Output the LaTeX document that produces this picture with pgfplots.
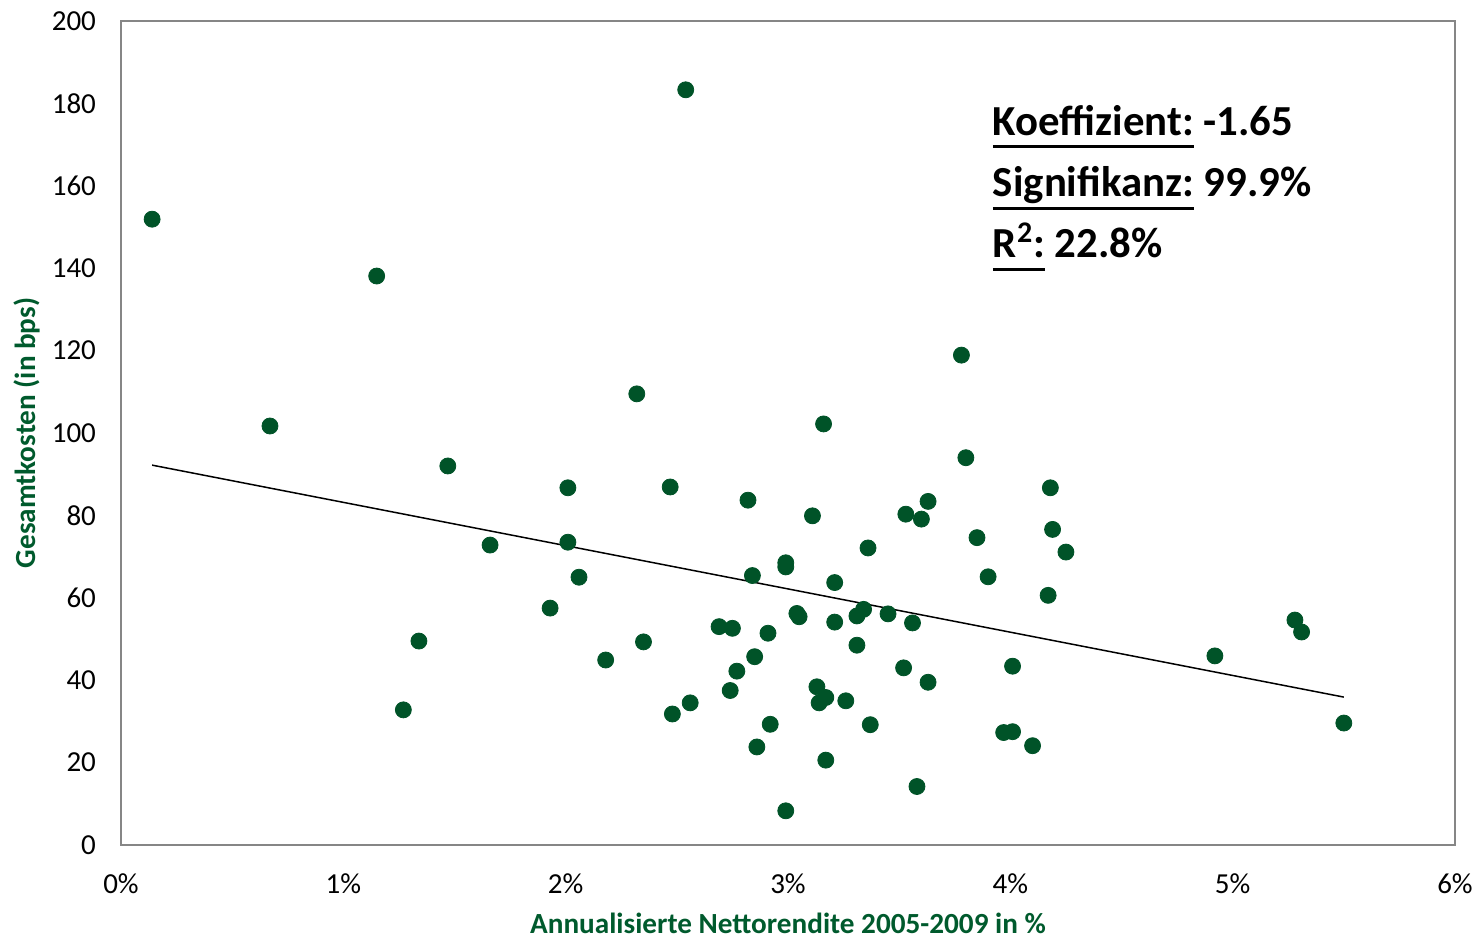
\documentclass[border=0pt]{standalone}
\usepackage{pgfplots}
\pgfplotsset{compat=1.18}
\usepackage{fontspec}
\setmainfont{Carlito}
\definecolor{dotgreen}{RGB}{0,83,40}
\definecolor{labgreen}{RGB}{0,90,45}
\definecolor{framegray}{RGB}{134,134,134}
\newcommand\ul[1]{\sbox0{#1}\rlap{\rule[-6.5pt]{\wd0}{1.5pt}}\usebox0}
\begin{document}
\begin{tikzpicture}
\useasboundingbox (-60.5pt,-47pt) rectangle (678.5pt,422.5pt);
\begin{axis}[
  at={(0,0)}, anchor=south west,
  scale only axis, width=667pt, height=412pt,
  xmin=0, xmax=6, ymin=0, ymax=200,
  xtick={0,1,2,3,4,5,6},
  xticklabels={0\%,1\%,2\%,3\%,4\%,5\%,6\%},
  ytick={0,20,...,200},
  tick style={draw=none},
  axis line style={framegray, line width=0.75pt},
  /pgf/number format/assume math mode=true,
  ticklabel style={font=\fontsize{14.5}{16}\selectfont, text=black},
  yticklabel style={xshift=-9pt},
  xticklabel style={yshift=-11pt},
  xlabel={Annualisierte Nettorendite 2005-2009 in \%},
  ylabel={Gesamtkosten (in bps)},
  label style={font=\bfseries\fontsize{14.6}{16}\selectfont, text=labgreen},
  xlabel style={at={(axis description cs:0.5,-0.0947)}, anchor=center, inner sep=1pt},
  ylabel style={at={(axis description cs:-0.0705,0.5)}, anchor=center},
  clip=false,
]
\addplot[color=dotgreen, only marks, mark=*, mark size=4pt, mark options={fill=dotgreen, draw=none}] coordinates {
(0.14,151.9) (2.54,183.3) (1.15,138.1) (0.67,101.7) (1.47,92.0) (1.66,72.8)
(1.34,49.5) (1.27,32.8) (2.32,109.5) (2.01,86.7) (2.01,73.5) (2.06,65.0)
(1.93,57.5) (2.18,44.9) (2.35,49.3) (2.47,86.9) (2.48,31.8) (2.56,34.5)
(3.16,102.2) (2.82,83.7) (3.11,79.9) (2.99,68.5) (2.99,67.5) (2.84,65.4)
(3.21,63.7) (3.04,56.2) (3.05,55.4) (3.21,54.1) (2.69,53.0) (2.75,52.6)
(2.91,51.4) (2.85,45.7) (2.77,42.2) (2.74,37.5) (3.13,38.4) (3.17,35.8)
(3.14,34.5) (3.26,35.0) (2.92,29.3) (2.86,23.8) (3.17,20.6) (2.99,8.3)
(3.78,118.9) (3.80,94.0) (4.18,86.7) (3.63,83.4) (3.53,80.3) (3.60,79.1)
(4.19,76.6) (3.85,74.6) (4.25,71.1) (3.36,72.1) (3.90,65.1) (4.17,60.6)
(3.34,57.2) (3.31,55.6) (3.45,56.1) (3.56,53.9) (3.31,48.5) (3.52,43.0)
(3.63,39.5) (4.01,43.4) (3.37,29.2) (3.97,27.3) (4.01,27.5) (4.10,24.1)
(3.58,14.2) (4.92,45.9) (5.28,54.6) (5.31,51.7) (5.50,29.6)
};
\addplot[black, line width=0.75pt] coordinates {(0.14,92.2) (5.50,35.9)};
\node[anchor=base west, font=\bfseries\fontsize{21.4}{24}\selectfont] at (axis cs:3.89,172.3) {\ul{Koeffizient:} -1.65};
\node[anchor=base west, font=\bfseries\fontsize{21.4}{24}\selectfont] at (axis cs:3.89,157.3) {\ul{Signifikanz:} 99.9\%};
\node[anchor=base west, font=\bfseries\fontsize{21.4}{24}\selectfont] at (axis cs:3.89,142.5) {\ul{R\textsuperscript{2}:} 22.8\%};
\end{axis}
\end{tikzpicture}
\end{document}
